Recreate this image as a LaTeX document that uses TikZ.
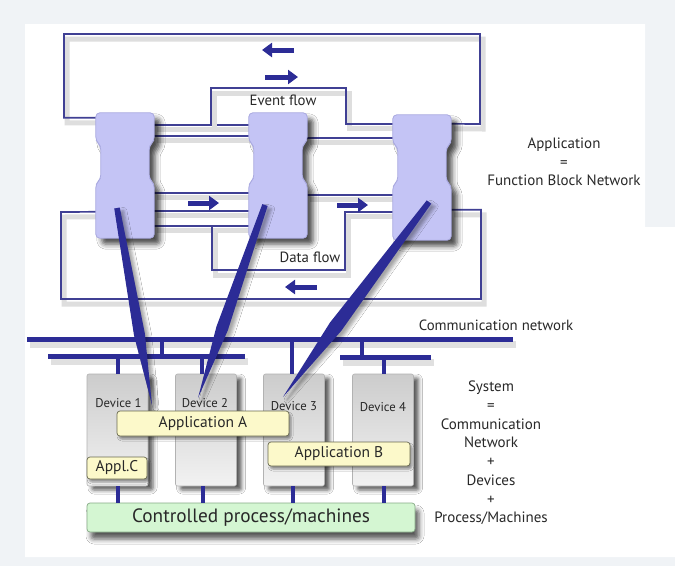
\documentclass[tikz,border=0pt]{standalone}
\usepackage{fontspec}
\setmainfont{PT Sans}
\usetikzlibrary{calc,shadows.blur,arrows.meta}

\definecolor{bgGrey}{RGB}{240,243,246}
\definecolor{wireBlue}{RGB}{64,64,148}
\definecolor{busBlue}{RGB}{44,44,150}
\definecolor{fbFill}{RGB}{196,196,245}
\definecolor{fbEdge}{RGB}{170,170,224}
\definecolor{devTop}{RGB}{204,204,204}
\definecolor{devBot}{RGB}{242,242,242}
\definecolor{devEdge}{RGB}{178,178,178}
\definecolor{appFill}{RGB}{252,249,202}
\definecolor{appEdge}{RGB}{105,105,80}
\definecolor{procFill}{RGB}{212,246,210}
\definecolor{procEdge}{RGB}{135,170,135}
\definecolor{txtGrey}{RGB}{40,40,40}

% notched function block body drawn around an (invisible) node
\newcommand\fbshape[1]{%
  \path[fbbody] (#1.north west) -- (#1.north east)
    -- ($(#1.north east)+(0,28)$) -- ($(#1.north east)+(-5,33)$)
    -- ($(#1.north east)+(-5,66)$) -- ($(#1.north east)+(0,71)$)
    -- (#1.south east) -- (#1.south west)
    -- ($(#1.north west)+(0,71)$) -- ($(#1.north west)+(5,66)$)
    -- ($(#1.north west)+(5,33)$) -- ($(#1.north west)+(0,28)$) -- cycle;}

% tapered mapping line from a function block to a device
\newcommand\spear[3]{%
  \coordinate (#1m) at ($(#1)!0.64!(#2)$);
  \fill[spearstyle] ($(#1)!2.8pt!90:(#2)$) -- ($(#1m)!#3!90:(#2)$) -- (#2)
    -- ($(#1m)!#3!-90:(#2)$) -- ($(#1)!2.8pt!-90:(#2)$) -- cycle;}

\begin{document}
\begin{tikzpicture}[x=1pt,y=-1pt,
  font=\color{txtGrey},
  fbnode/.style={rectangle, draw=none, inner sep=0pt,
    minimum width=58pt, minimum height=125pt},
  fbbody/.style={fill=fbFill, draw=fbEdge, line width=0.8pt, rounded corners=4pt,
    blur shadow={shadow xshift=6pt, shadow yshift=-6pt, shadow opacity=70,
      shadow blur radius=5pt}},
  wire/.style={draw=wireBlue, line width=1.7pt,
    preaction={draw=black!13, line width=5pt,
      transform canvas={shift={(3pt,-5pt)}}}},
  bus/.style={draw=busBlue, line width=5pt,
    preaction={draw=black!12, line width=7pt,
      transform canvas={shift={(3pt,-5pt)}}}},
  drop/.style={draw=busBlue, line width=4.5pt},
  flowarrow/.style={draw=busBlue, line width=5pt,
    -{Triangle[length=10pt,width=14pt]}},
  spearstyle/.style={fill=busBlue,
    blur shadow={shadow xshift=4pt, shadow yshift=-3pt, shadow opacity=35,
      shadow blur radius=3pt}},
  device/.style={rectangle, draw=devEdge, line width=0.6pt, rounded corners=2pt,
    top color=devTop, bottom color=devBot, minimum width=61pt,
    minimum height=112pt, inner sep=0pt,
    blur shadow={shadow xshift=5pt, shadow yshift=-4pt, shadow opacity=65,
      shadow blur radius=4pt}},
  devlabel/.style={font=\fontsize{12.7}{14}\selectfont\color{txtGrey}, inner sep=0pt},
  appbox/.style={rectangle, draw=appEdge, line width=0.7pt, rounded corners=3pt,
    fill=appFill, inner sep=0pt, font=\fontsize{15.5}{17}\selectfont\color{txtGrey},
    blur shadow={shadow xshift=2pt, shadow yshift=-3pt, shadow opacity=40,
      shadow blur radius=2pt}},
  procbox/.style={rectangle, draw=procEdge, line width=0.7pt, rounded corners=3pt,
    fill=procFill, inner sep=0pt, font=\fontsize{19.3}{21}\selectfont\color{txtGrey},
    minimum width=328pt, minimum height=29pt,
    blur shadow={shadow xshift=4pt, shadow yshift=-7pt, shadow opacity=65,
      shadow blur radius=5pt}},
  caption/.style={font=\fontsize{14.8}{16}\selectfont\color{txtGrey}, inner sep=0pt},
  sidetext/.style={font=\fontsize{15}{18.7}\selectfont\color{txtGrey}, align=center,
    inner sep=0pt}
]
% page background and white panel
\fill[bgGrey] (0,0) rectangle (675,566);
\fill[white] (25,24) -- (645,24) -- (645,227) -- (675,227) -- (675,557)
  -- (25,557) -- cycle;
\useasboundingbox (0,0) rectangle (675,566);

% function block placeholders
\node[fbnode] (fb1) at (125,175.5) {};
\node[fbnode] (fb2) at (278,175.5) {};
\node[fbnode] (fb3) at (422,177.5) {};

% event connections
\draw[wire] ($(fb1.north west)+(0,5)$) -| (64,34) -| (480,124)
  -- ($(fb3.north east)+(0,9)$);
\draw[wire] ($(fb1.north east)+(0,12)$) -- ($(fb2.north west)+(0,12)$);
\draw[wire] ($(fb3.north west)+(0,9)$) -| (346,88) -| (211,125);
\draw[wire] ($(fb1.north east)+(0,23)$) -- ($(fb2.north west)+(0,23)$);
\draw[wire] ($(fb2.north east)+(0,25)$) -- ($(fb3.north west)+(0,23)$);

% data connections
\draw[wire] ($(fb1.north east)+(0,80)$) -- ($(fb2.north west)+(0,80)$);
\draw[wire] ($(fb2.north east)+(0,82)$) -- ($(fb3.north west)+(0,80)$);
\draw[wire] ($(fb1.north east)+(0,98)$) -- ($(fb2.north west)+(0,98)$);
\draw[wire] ($(fb1.north east)+(0,113)$) -- ($(fb2.north west)+(0,113)$);
\draw[wire] ($(fb3.north west)+(0,97)$) -| (345,270) -| (212,226);
\draw[wire] ($(fb3.north east)+(0,95)$) -| (481,299) -| (61,212)
  -- ($(fb1.north west)+(0,99)$);

% function blocks
\fbshape{fb1}
\fbshape{fb2}
\fbshape{fb3}

% flow direction arrows
\coordinate (ev1a) at (294,50);  \coordinate (ev1b) at (262,50);
\coordinate (ev2a) at (265,77);  \coordinate (ev2b) at (298,77);
\coordinate (da1a) at (188,203); \coordinate (da1b) at (219,203);
\coordinate (da2a) at (337,205); \coordinate (da2b) at (368,205);
\coordinate (da3a) at (317,287); \coordinate (da3b) at (285,287);
\draw[flowarrow] (ev1a) -- (ev1b);
\draw[flowarrow] (ev2a) -- (ev2b);
\draw[flowarrow] (da1a) -- (da1b);
\draw[flowarrow] (da2a) -- (da2b);
\draw[flowarrow] (da3a) -- (da3b);

% captions
\node[caption] (evlbl) at (283,100) {Event flow};
\node[caption] (dalbl) at (310,257) {Data flow};
\node[sidetext] (apptxt) at (564,162) {Application\\=\\Function Block Network};
\node[caption] (nettxt) at (496,325) {Communication network};
\node[sidetext] (systxt) at (491,453) {System\\=\\Communication\\Network\\+\\Devices\\+\\Process/Machines};

% communication network
\coordinate (busMainL) at (27,339);  \coordinate (busMainR) at (513,339);
\coordinate (busLeftL) at (48,356);  \coordinate (busLeftR) at (245,356);
\coordinate (busRightL) at (340,357); \coordinate (busRightR) at (431,357);
\draw[bus] (busMainL) -- (busMainR);
\draw[bus] (busLeftL) -- (busLeftR);
\draw[bus] (busRightL) -- (busRightR);
\draw[drop] (162,339) -- (busLeftL -| 162,0);
\draw[drop] (362,339) -- (busRightL -| 362,0);

% devices
\node[device] (dev1) at (117.5,430) {};
\node[device] (dev2) at (206,430) {};
\node[device] (dev3) at (294,430) {};
\node[device] (dev4) at (383,430) {};
\draw[drop] ([xshift=0.5pt]dev1.north) -- ([xshift=0.5pt]dev1.north |- busLeftL);
\draw[drop] ([xshift=-4pt]dev2.north) -- ([xshift=-4pt]dev2.north |- busLeftL);
\draw[drop] ([xshift=-2pt]dev3.north) -- ([xshift=-2pt]dev3.north |- busMainL);
\draw[drop] ([xshift=1pt]dev4.north) -- ([xshift=1pt]dev4.north |- busRightL);
\node[devlabel] (dl1) at ($(dev1.north)+(1,29)$) {Device 1};
\node[devlabel] (dl2) at ($(dev2.north)+(-1,29)$) {Device 2};
\node[devlabel] (dl3) at ($(dev3.north)+(0,32)$) {Device 3};
\node[devlabel] (dl4) at ($(dev4.north)+(0,33)$) {Device 4};

% controlled process
\node[procbox] (proc) at (251,517.5) {Controlled process/machines};
\draw[drop] ([xshift=0.5pt]dev1.south) -- ([xshift=0.5pt]dev1.south |- proc.north);
\draw[drop] ([xshift=-3pt]dev2.south) -- ([xshift=-3pt]dev2.south |- proc.north);
\draw[drop] ([xshift=-1pt]dev3.south) -- ([xshift=-1pt]dev3.south |- proc.north);
\draw[drop] ([xshift=1pt]dev4.south) -- ([xshift=1pt]dev4.south |- proc.north);

% mapping of function blocks onto devices
\coordinate (s1) at (117,208); \coordinate (e1) at (152,405);
\coordinate (s2) at (265,205); \coordinate (e2) at (198,398);
\coordinate (s3) at (429,202); \coordinate (e3) at (283,397);
\spear{s1}{e1}{5.5pt}
\spear{s2}{e2}{6pt}
\spear{s3}{e3}{7pt}

% applications
\node[appbox, minimum width=172pt, minimum height=25pt] (appA) at (203,423.5) {Application A};
\node[appbox, minimum width=142pt, minimum height=24pt] (appB) at (339,454) {Application B};
\node[appbox, minimum width=60pt, minimum height=22pt] (appC) at (117,468) {Appl.C};
\end{tikzpicture}
\end{document}
